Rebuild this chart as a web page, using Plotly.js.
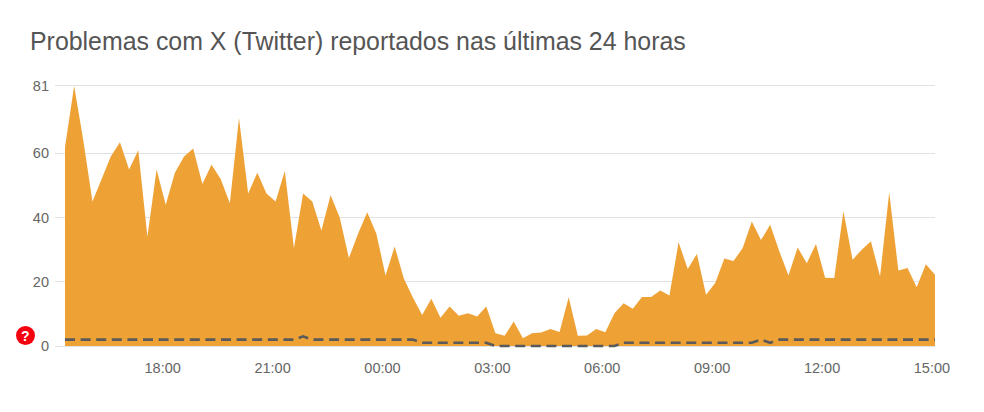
<!DOCTYPE html>
<html>
<head>
<meta charset="utf-8">
<script src="https://cdn.plot.ly/plotly-3.0.1.min.js"></script>
<style>html,body{margin:0;padding:0;background:#fff}#c{width:984px;height:412px}</style>
</head>
<body>
<div id="c"></div>
<script>
const titleText = "Problemas com X (Twitter) reportados nas últimas 24 horas";
const reports = [62,81,64,45,52,59,63.5,55,61,34,55,44,54,59,61.5,50.5,56.5,52,44.5,71,47.5,54,47.5,45,54.5,30.5,47.5,45,36,47,40,27.4,35,41.7,35,22,31,21,15,9.7,14.7,8.8,12.3,9.4,10.2,9.2,12.3,4,3.2,7.6,2.4,4,4.2,5.3,4.4,15.2,3.2,3.3,5.3,4.3,10.2,13.3,11.6,15.3,15.3,17.3,15.7,32.3,24,28.7,16,19.6,27.3,26.5,30.5,38.8,33,37.8,29.5,22,30.7,25.8,31.8,21.3,21.2,42,26.9,30,32.6,21.7,47.9,23.5,24.3,18.3,25.5,22.2];
const baseline = [2,2,2,2,2,2,2,2,2,2,2,2,2,2,2,2,2,2,2,2,2,2,2,2,2,2,3,2,2,2,2,2,2,2,2,2,2,2,2,1,1,1,1,1,1,1,1,0,0,0,0,0,0,0,0,0,0,0,0,0,0,1,1,1,1,1,1,1,1,1,1,1,1,1,1,1,2,1,2,2,2,2,2,2,2,2,2,2,2,2,2,2,2,2,2,2];
const startTime = Date.UTC(2024,0,1,15,20);
const stepMinutes = 15;
const times = reports.map((_, i) => new Date(startTime + i*stepMinutes*60000).toISOString());
const xTickVals = ["2024-01-01T18:00:00Z","2024-01-01T21:00:00Z","2024-01-02T00:00:00Z","2024-01-02T03:00:00Z","2024-01-02T06:00:00Z","2024-01-02T09:00:00Z","2024-01-02T12:00:00Z","2024-01-02T15:00:00Z"];
const xTickText = ["18:00","21:00","00:00","03:00","06:00","09:00","12:00","15:00"];
const yTickVals = [0,20,40,60,81];
const FONT = "'Liberation Sans', Arial, sans-serif";

const W = 984, H = 412, L = 55, R = 49, T = 83, B = 63;
const xStart = new Date(startTime - (10/9.158)*stepMinutes*60000).toISOString();
const xEnd = times[times.length-1];
const px = v => (v - L) / (W - L - R);
const py = v => (H - B - v) / (H - T - B);

Plotly.newPlot("c", [
  {x: times, y: reports, type: "scatter", mode: "none", fill: "tozeroy", fillcolor: "#EEA236", hoverinfo: "skip"},
  {x: times, y: baseline, type: "scatter", mode: "lines", line: {color: "#5a5a5a", width: 2.6, dash: "10px,5.6px"}, hoverinfo: "skip"}
], {
  width: W, height: H, showlegend: false,
  paper_bgcolor: "#fff", plot_bgcolor: "#fff",
  margin: {l: L, r: R, t: T, b: B, pad: 0},
  font: {family: FONT, color: "#666", size: 14.5},
  title: {text: titleText, x: 30/W, xanchor: "left", y: 1-41/H, yanchor: "middle", font: {family: FONT, size: 24.9, color: "#555"}},
  xaxis: {type: "date", range: [xStart, xEnd], tickmode: "array", tickvals: xTickVals, ticktext: xTickText, showgrid: false, showline: false, zeroline: false, ticks: "", tickfont: {size: 14.5, color: "#666"}, ticklabelstandoff: 8},
  yaxis: {range: [-0.93, 81.93], tickmode: "array", tickvals: yTickVals, showgrid: true, gridcolor: "#e2e2e2", gridwidth: 1, showline: false, zeroline: false, ticks: "", tickfont: {size: 14.5, color: "#666"}, ticklabelstandoff: 5},
  shapes: [{type: "circle", xref: "paper", yref: "paper", x0: px(16), x1: px(35), y0: py(345), y1: py(326), fillcolor: "#f5000f", line: {width: 0}, layer: "above"}],
  annotations: [{text: "<b>?</b>", xref: "paper", yref: "paper", x: px(25.5), y: py(335.5), showarrow: false, xanchor: "center", yanchor: "middle", font: {family: FONT, size: 14, color: "#fff"}}]
}, {displayModeBar: false, staticPlot: true});
</script>
</body>
</html>
